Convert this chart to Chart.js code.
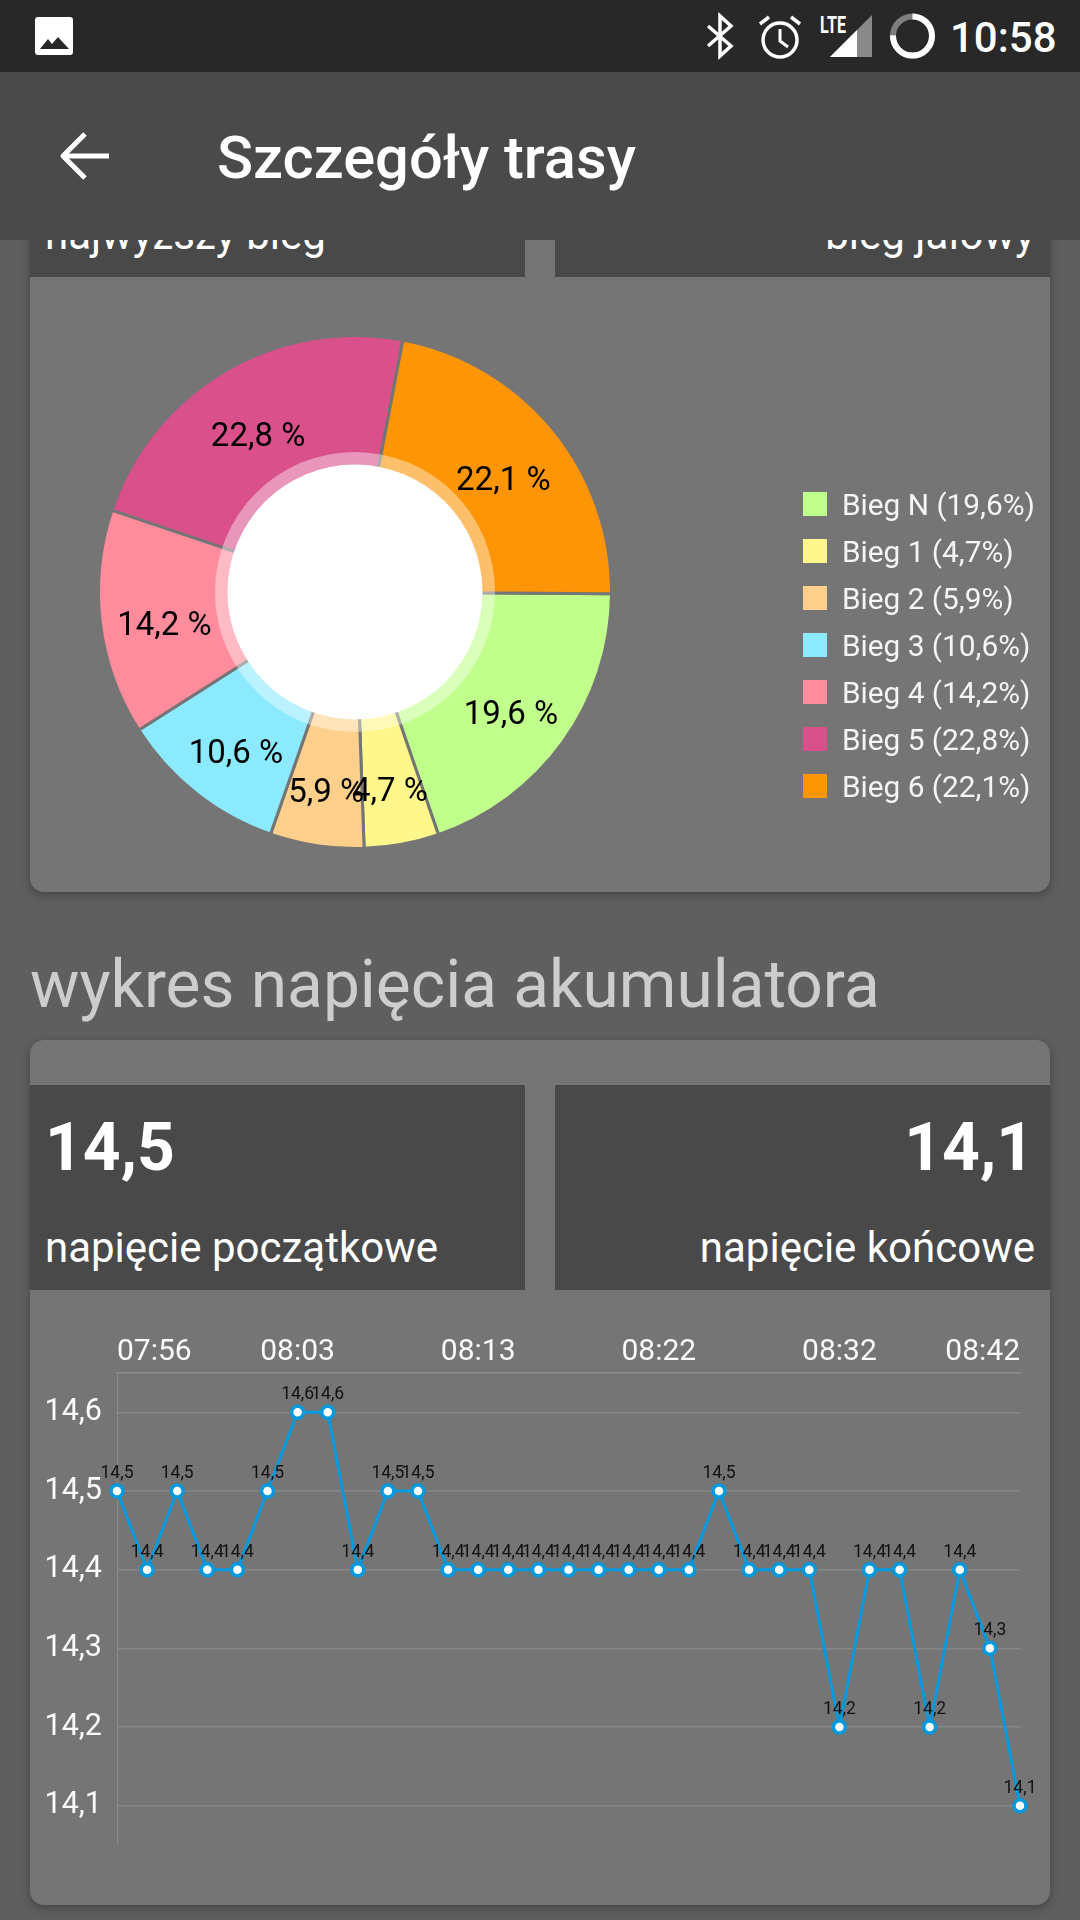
<!DOCTYPE html>
<html lang="pl">
<head>
<meta charset="utf-8">
<title>Szczegóły trasy</title>
<script src="https://cdn.jsdelivr.net/npm/chart.js@4.4.4/dist/chart.umd.min.js"></script>
<style>
  html, body { margin: 0; padding: 0; }
  body { width: 1080px; height: 1920px; position: relative; overflow: hidden; background: #5f5f5f;
         font-family: Roboto, sans-serif; color: #fff; }
  .abs { position: absolute; white-space: nowrap; }
  .status { left: 0; top: 0; width: 1080px; height: 72px; background: #282828; z-index: 3; }
  .toolbar { left: 0; top: 72px; width: 1080px; height: 168px; background: #4a4a4a; z-index: 3; }
  .card { background: #757575; border-radius: 14px; box-shadow: 0 3px 10px rgba(0,0,0,.3); left: 30px; width: 1020px; }
  .tile { background: #494949; width: 495px; }
  .label { font-size: 42px; line-height: 42px; }
  .big { font-size: 66px; line-height: 66px; font-weight: 700; }
  canvas { position: absolute; }
  .swatch { position: absolute; left: 803px; width: 24px; height: 24px; }
  .legend-text { position: absolute; left: 842px; font-size: 29.8px; line-height: 30px; color: #f5f5f5; white-space: nowrap; }
</style>
</head>
<body>

<div class="abs status"></div>
<svg class="abs" style="left:0;top:0;z-index:4" width="1080" height="72">
  <rect x="35" y="17" width="38" height="38" rx="3" fill="#fff"/>
  <polygon points="40,49 48,39 52,44 58,37 69,49" fill="#282828"/>
  <polyline points="708,26 731,46 720,56 720,16 731,26 708,46" fill="none" stroke="#fff" stroke-width="3.5"/>
  <circle cx="780" cy="40" r="17" fill="none" stroke="#fff" stroke-width="3.5"/>
  <polyline points="780,29 780,41 788,47" fill="none" stroke="#fff" stroke-width="3"/>
  <line x1="760" y1="24" x2="769" y2="17" stroke="#fff" stroke-width="3.5"/>
  <line x1="800" y1="24" x2="791" y2="17" stroke="#fff" stroke-width="3.5"/>
  <polygon points="830,57 872,15 872,57" fill="#8a8a8a"/>
  <polygon points="830,57 857,30 857,57" fill="#fff"/>
  <text x="820" y="33" font-family="Roboto" font-weight="700" font-size="24" fill="#fff" textLength="26" lengthAdjust="spacingAndGlyphs">LTE</text>
  <circle cx="912.5" cy="36" r="19.5" fill="none" stroke="#7d7d7d" stroke-width="6"/>
  <circle cx="912.5" cy="36" r="19.5" fill="none" stroke="#fff" stroke-width="6" stroke-dasharray="92 31" transform="rotate(-90 912.5 36)"/>
</svg>
<div class="abs" style="left:950px;top:17px;font-size:42px;line-height:42px;font-weight:500;z-index:4">10:58</div>

<div class="abs toolbar"></div>
<svg class="abs" style="left:0;top:0;z-index:4" width="140" height="240">
  <polyline points="85,134 63,156 85,178" fill="none" stroke="#fff" stroke-width="5" stroke-linejoin="round"/>
  <line x1="64" y1="156" x2="109" y2="156" stroke="#fff" stroke-width="5"/>
</svg>
<div class="abs" style="left:217px;top:128px;font-size:59.6px;line-height:60px;font-weight:500;z-index:4">Szczegóły trasy</div>

<!-- gear card, scrolled partly under the toolbar -->
<div class="abs card" style="top:120px;height:772px"></div>
<div class="abs tile" style="left:30px;top:150px;height:127px"></div>
<div class="abs tile" style="left:555px;top:150px;height:127px"></div>
<div class="abs label" style="left:45px;top:214px">najwyższy bieg</div>
<div class="abs label" style="right:45px;top:214px">bieg jałowy</div>
<canvas id="gearChart" width="1020" height="615" style="left:30px;top:277px"></canvas>
<div id="gearLegend"></div>

<div class="abs" style="left:30px;top:952px;font-size:65.8px;line-height:66px;color:#cdcdcd">wykres napięcia akumulatora</div>

<!-- battery voltage card -->
<div class="abs card" style="top:1040px;height:865px"></div>
<div class="abs tile" style="left:30px;top:1085px;height:205px"></div>
<div class="abs tile" style="left:555px;top:1085px;height:205px"></div>
<div class="abs big" style="left:45px;top:1115px">14,5</div>
<div class="abs big" style="right:46px;top:1115px">14,1</div>
<div class="abs label" style="left:45px;top:1227px">napięcie początkowe</div>
<div class="abs label" style="right:45px;top:1227px">napięcie końcowe</div>
<canvas id="voltageChart" width="1020" height="615" style="left:30px;top:1290px"></canvas>

<script>
// gear usage, % of the trip
const gears = ['Bieg N', 'Bieg 1', 'Bieg 2', 'Bieg 3', 'Bieg 4', 'Bieg 5', 'Bieg 6'];
const gearShares = [19.6, 4.7, 5.9, 10.6, 14.2, 22.8, 22.1];
const gearColors = ['#c0ff8c', '#fff78c', '#ffd08c', '#8ceaff', '#ff8c9d', '#d9508a', '#fe9507'];

// battery voltage over the trip, only every sixth time is labelled
const times = [
  '07:56', '', '', '', '', '',
  '08:03', '', '', '', '', '',
  '08:13', '', '', '', '', '',
  '08:22', '', '', '', '', '',
  '08:32', '', '', '', '', '',
  '08:42'
];
const voltages = [
  14.5, 14.4, 14.5, 14.4, 14.4, 14.5, 14.6, 14.6, 14.4, 14.5, 14.5,
  14.4, 14.4, 14.4, 14.4, 14.4, 14.4, 14.4, 14.4, 14.4,
  14.5, 14.4, 14.4, 14.4, 14.2, 14.4, 14.4, 14.2, 14.4, 14.3, 14.1
];
const voltageTicks = [14.1, 14.2, 14.3, 14.4, 14.5, 14.6];

const comma = (v) => v.toFixed(1).replace('.', ',');

// legend sits far right of the doughnut, easier as plain html
const legendRows = [504, 551, 598, 645, 692, 739, 786];
const legendBox = document.getElementById('gearLegend');
gears.forEach((name, i) => {
  const swatch = document.createElement('div');
  swatch.className = 'swatch';
  swatch.style.top = (legendRows[i] - 12) + 'px';
  swatch.style.background = gearColors[i];
  const text = document.createElement('div');
  text.className = 'legend-text';
  text.style.top = (legendRows[i] - 14) + 'px';
  text.textContent = name + ' (' + comma(gearShares[i]) + '%)';
  legendBox.append(swatch, text);
});

// translucent ring + white hole on top of the slices, then the % labels
// slices run under the hole so their inner border stays hidden
const holeRatio = 0.497;
const ringRatio = 0.546;
const holePlugin = {
  id: 'hole',
  afterDatasetsDraw(chart) {
    const { ctx } = chart;
    const arcs = chart.getDatasetMeta(0).data;
    const { x, y, outerRadius } = arcs[0];
    const holeRadius = outerRadius * holeRatio;
    ctx.save();
    ctx.fillStyle = 'rgba(255,255,255,0.4)';
    ctx.beginPath();
    ctx.arc(x, y, outerRadius * ringRatio, 0, Math.PI * 2);
    ctx.fill();
    ctx.fillStyle = '#fff';
    ctx.beginPath();
    ctx.arc(x, y, holeRadius, 0, Math.PI * 2);
    ctx.fill();

    ctx.fillStyle = '#000';
    ctx.font = '33px Roboto';
    ctx.textAlign = 'center';
    ctx.textBaseline = 'alphabetic';
    const labelRadius = (outerRadius + holeRadius) / 2;
    arcs.forEach((arc, i) => {
      const mid = (arc.startAngle + arc.endAngle) / 2;
      ctx.fillText(comma(gearShares[i]) + ' %', x + Math.cos(mid) * labelRadius, y + Math.sin(mid) * labelRadius + 20);
    });
    ctx.restore();
  },
};

new Chart(document.getElementById('gearChart'), {
  type: 'doughnut',
  data: {
    labels: gears,
    datasets: [{
      data: gearShares,
      backgroundColor: gearColors,
      borderColor: '#757575',
      borderWidth: 3,
      radius: 256.5,
    }],
  },
  options: {
    responsive: false,
    animation: false,
    rotation: 90.4,
    cutout: '45%',
    layout: { padding: { left: 65, right: 435, top: 60, bottom: 45 } },
    plugins: { legend: { display: false }, tooltip: { enabled: false } },
  },
  plugins: [holePlugin],
});

// value above every point
const valueLabels = {
  id: 'valueLabels',
  afterDatasetsDraw(chart) {
    const { ctx } = chart;
    ctx.save();
    ctx.fillStyle = '#111';
    ctx.font = '17.5px Roboto';
    ctx.textAlign = 'center';
    ctx.textBaseline = 'alphabetic';
    chart.getDatasetMeta(0).data.forEach((pt, i) => {
      ctx.fillText(comma(voltages[i]), pt.x, pt.y - 13);
    });
    ctx.restore();
  },
};

new Chart(document.getElementById('voltageChart'), {
  type: 'line',
  data: {
    labels: times,
    datasets: [{
      data: voltages,
      borderColor: '#0299de',
      borderWidth: 3,
      tension: 0,
      pointRadius: 6,
      pointBorderWidth: 3.5,
      pointBorderColor: '#0299de',
      pointBackgroundColor: '#fff',
      clip: false,
    }],
  },
  options: {
    responsive: false,
    animation: false,
    layout: { padding: { left: 0, right: 30, top: 0, bottom: 60 } },
    scales: {
      x: {
        position: 'top',
        offset: false,
        grid: { display: false },
        border: { color: '#8b8b8b', width: 1.5 },
        ticks: {
          autoSkip: false, maxRotation: 0, align: 'inner', padding: -5,
          color: '#fafafa', font: { family: 'Roboto', size: 30 },
        },
        afterFit(scale) { scale.height = 83; },
      },
      y: {
        min: 14.05,
        max: 14.65,
        afterBuildTicks(scale) { scale.ticks = voltageTicks.map((value) => ({ value })); },
        grid: { color: '#878787', lineWidth: 1.5, drawTicks: false },
        border: { color: '#8b8b8b', width: 1 },
        ticks: {
          padding: 15,
          color: '#fafafa',
          font: { family: 'Roboto', size: 30.5 },
          callback: (v) => comma(v),
        },
        afterFit(scale) { scale.width = 87; },
      },
    },
    plugins: { legend: { display: false }, tooltip: { enabled: false } },
  },
  plugins: [valueLabels],
});
</script>
</body>
</html>
